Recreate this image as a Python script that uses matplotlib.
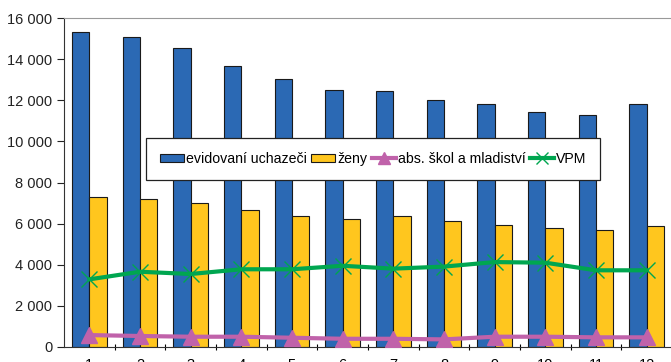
import numpy as np
import matplotlib.pyplot as plt
from matplotlib.ticker import FuncFormatter

plt.rcParams['font.family'] = ['Liberation Sans', 'DejaVu Sans']

# měsíce a hodnoty
mesice = [str(i) for i in range(1, 13)]
uchazeci = [15300, 15080, 14530, 13650, 13010, 12480, 12430, 12030, 11800, 11410, 11260, 11800]
zeny = [7310, 7180, 6990, 6660, 6370, 6230, 6360, 6140, 5950, 5770, 5690, 5870]
absolventi = [580, 535, 500, 500, 450, 400, 400, 370, 500, 500, 470, 470]
vpm = [3290, 3660, 3550, 3780, 3780, 3950, 3810, 3910, 4130, 4100, 3730, 3730]

x = np.arange(1, 13)
w = 0.345

fig = plt.figure(figsize=(6.71, 3.62), dpi=100)
ax = fig.add_axes([64 / 671, 15 / 362, 608 / 671, 329 / 362])

b1 = ax.bar(x - w / 2, uchazeci, width=w, color='#2B69B4', edgecolor='#1a1a1a', linewidth=0.8,
            label='evidovaní uchazeči', zorder=2)
b2 = ax.bar(x + w / 2, zeny, width=w, color='#FFC61E', edgecolor='#1a1a1a', linewidth=0.8,
            label='ženy', zorder=2)
l1, = ax.plot(x, absolventi, color='#C062AA', linewidth=3, marker='^', markersize=11,
              label='abs. škol a mladiství', zorder=3)
l2, = ax.plot(x, vpm, color='#00A650', linewidth=3, marker='x', markersize=11,
              markeredgewidth=1, label='VPM', zorder=3)

ax.set_xlim(0.5, 12.5)
ax.set_ylim(0, 16000)
ax.set_yticks(np.arange(0, 16001, 2000))
ax.yaxis.set_major_formatter(FuncFormatter(lambda v, p: f'{int(v):,}'.replace(',', ' ')))
ax.set_xticks(x)
ax.set_xticklabels(mesice)
ax.set_xticks(np.arange(1.5, 12.5, 1), minor=True)
ax.tick_params(axis='x', which='major', length=0, pad=8, labelsize=10.5)
ax.tick_params(axis='x', which='minor', length=5, direction='inout', width=0.8)
ax.tick_params(axis='y', length=5, width=0.8, labelsize=10.5, colors='#222222')

ax.spines['right'].set_visible(False)
ax.spines['top'].set_color('#999999')
ax.spines['left'].set_color('#333333')
ax.spines['bottom'].set_color('#333333')

leg = fig.legend([b1, b2, l1, l2], [b1.get_label(), b2.get_label(), l1.get_label(), l2.get_label()],
                 loc='center', bbox_to_anchor=(373 / 671, 1 - 159 / 362), ncol=4,
                 fontsize=10.2, frameon=True, fancybox=False, edgecolor='#222222',
                 framealpha=1, handlelength=1.7, handletextpad=0.15, columnspacing=0.3,
                 borderpad=1.0, borderaxespad=0, handleheight=0.5, markerscale=0.8)
leg.get_frame().set_linewidth(0.9)

plt.savefig('out.png', dpi=100)
